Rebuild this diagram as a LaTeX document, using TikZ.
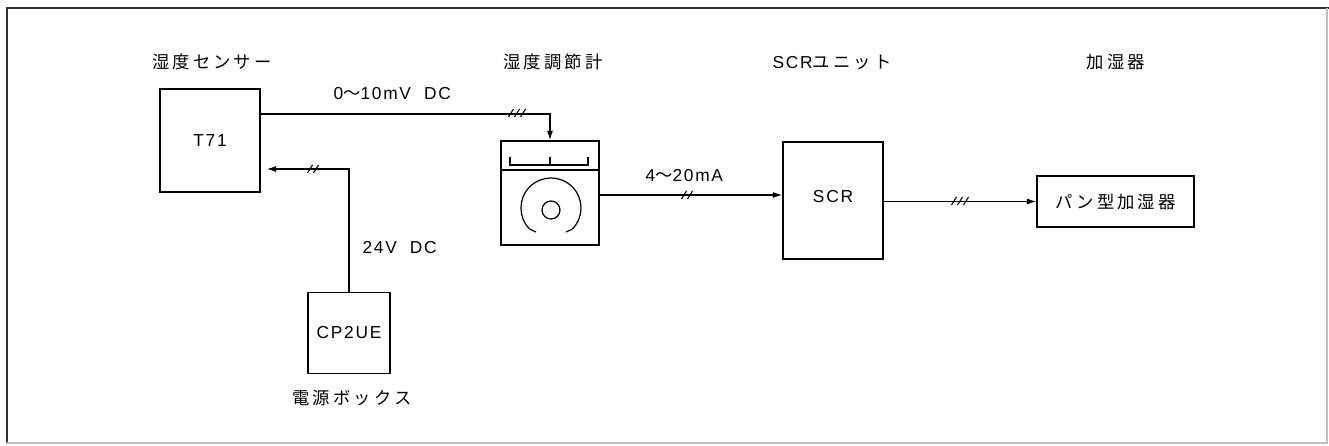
\documentclass[tikz,border=0pt]{standalone}
\usepackage{fontspec}
\setmainfont{Liberation Sans}[LetterSpace=10]
\newfontfamily\cjk{Noto Sans CJK JP}[LetterSpace=18]
\usetikzlibrary{arrows.meta}
\begin{document}
\begin{tikzpicture}[x=0.75pt,y=0.75pt, line width=0.9pt,
  box/.style={draw, line width=1.1pt, inner sep=0pt, font=\fontsize{13}{15}\selectfont},
  arr/.style={-{Latex[length=7pt,width=4.5pt]}},
  lbl/.style={font=\fontsize{13}{15}\selectfont, inner sep=0pt},
  head/.style={font=\cjk\fontsize{13}{15}\selectfont, inner sep=0pt},
  tickthree/.pic={\foreach \d in {-6,0,6} \draw[line width=0.8pt] (\d-2.5,-4) -- (\d+2.5,4);},
  ticktwo/.pic={\foreach \d in {-3,3} \draw[line width=0.8pt] (\d-2.5,-4) -- (\d+2.5,4);}]
\useasboundingbox (0,0) rectangle (1329,-446);
% frame
\draw[line width=1.6pt, black!80] (7,-443) -- (7,-8) -- (1329,-8);
\draw[black!25] (7,-443) -- (1327,-443) -- (1327,-8);
% headings
\node[head] (h1) at (212,-62) {湿度センサー};
\node[head] (h2) at (553,-62) {湿度調節計};
\node[head] (h3) at (832,-62) {{\fontspec{Liberation Sans}[LetterSpace=10]SCR}ユニット};
\node[head] (h4) at (1116,-62) {加湿器};
% boxes
\node[box, minimum width=75pt, minimum height=77.25pt] (t71) at (210,-140.5) {T71};
\node[box, minimum width=61.5pt, minimum height=60.75pt] (cp) at (349,-333) {CP2UE};
\node[head] (h5) at (352,-398) {電源ボックス};
\node[box, minimum width=73.5pt, minimum height=78pt] (ctrl) at (550,-193) {};
\node[box, minimum width=75pt, minimum height=87.75pt] (scr) at (833,-200.5) {};
\node[lbl] (scrt) at (833,-197) {SCR};
\node[box, minimum width=117.75pt, minimum height=38.25pt, font=\cjk\fontsize{13}{15}\selectfont] (pan) at (1115.5,-201.5) {パン型加湿器};
% controller details
\draw (501,-170) -- (599,-170);
\draw (510,-157) -- (510,-165) -- (588,-165) -- (588,-157);
\draw (550,-165) -- (550,-157);
\draw (572.2,-229.2) arc[start angle=-45, end angle=225, radius=30];
\draw (529.8,-229.2) -- (536,-232);
\draw (572.2,-229.2) -- (566,-232);
\draw (551,-210) circle[radius=9];
% connectors
\coordinate (c1) at (550,-114);
\draw[arr] (t71.east |- c1) -- (c1) -- (ctrl.north);
\path (517,-113) pic {tickthree};
\node[lbl, anchor=west] (l1) at (333,-94) {0{\cjk 〜}10mV\ \ DC};
\coordinate (c2) at (349,-169);
\draw[arr, shorten >=4.5pt] (cp.north) -- (c2) -- (t71.east |- c2);
\path (313,-169) pic {ticktwo};
\node[lbl, anchor=west] (l2) at (362,-248) {24V\ \ DC};
\coordinate (c3) at (700,-195);
\draw[arr] (ctrl.east |- c3) -- (scr.west |- c3);
\path (687,-195) pic {ticktwo};
\node[lbl, anchor=west] (l3) at (645,-176) {4{\cjk 〜}20mA};
\draw[arr] (scr.east |- pan.west) -- (pan.west);
\path (960,-201) pic {tickthree};
\end{tikzpicture}
\end{document}
